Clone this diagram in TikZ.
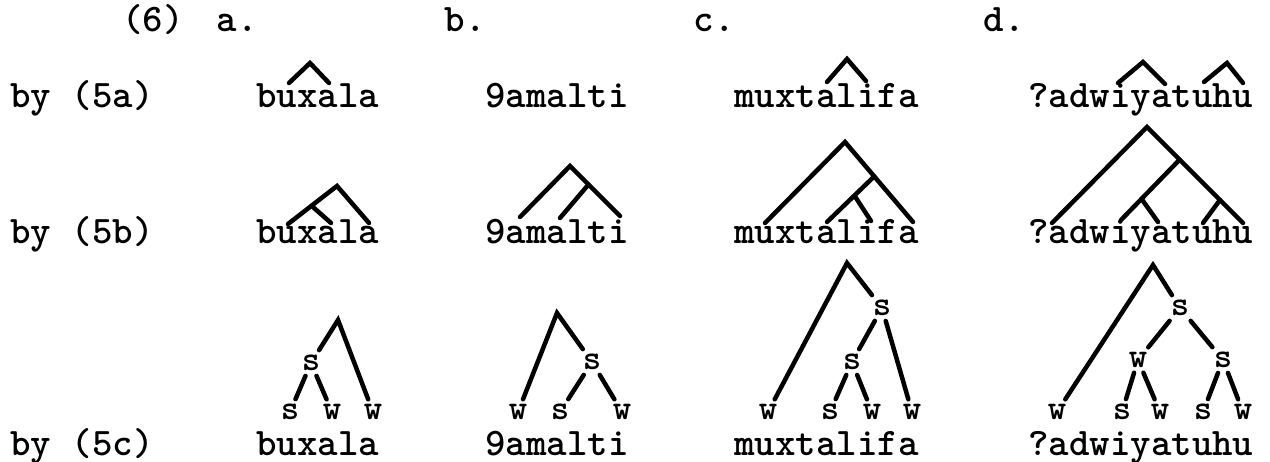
\documentclass[tikz,border=0pt]{standalone}
\usepackage{fontspec}
\usepackage{tikz}
\usetikzlibrary{positioning,calc}

\begin{document}
\begin{tikzpicture}[
    x=1pt, y=-1pt,
    word/.style={anchor=base west, inner sep=0pt, font=\ttfamily\bfseries\fontsize{39}{41}\selectfont},
    head/.style={anchor=base, inner sep=0pt, font=\ttfamily\bfseries\fontsize{39}{41}\selectfont},
    sw/.style={inner sep=1pt, outer sep=4pt, font=\ttfamily\bfseries\fontsize{35}{37}\selectfont},
    branch/.style={line width=4.5pt, line cap=round},
  ]
  \useasboundingbox (0,0) rectangle (1270,462);

  % Column heads
  \node[head] (ex) at (153,32) {(6)};
  \node[head] (hda) at (237,32) {a.};
  \node[head] (hdb) at (465,32) {b.};
  \node[head] (hdc) at (714,32) {c.};
  \node[head] (hdd) at (1004,32) {d.};

  % Row labels
  \node[word] (r5a) at (10,108) {by (5a)};
  \node[word] (r5b) at (10,244) {by (5b)};
  \node[word] (r5c) at (10,455) {by (5c)};

  % Words
  \node[word] (wa1) at (256,108) {buxala};
  \node[word] (wa2) at (256,244) {buxala};
  \node[word] (wa3) at (256,455) {buxala};
  \node[word] (wb1) at (485,108) {9amalti};
  \node[word] (wb2) at (485,244) {9amalti};
  \node[word] (wb3) at (485,455) {9amalti};
  \node[word] (wc1) at (734,108) {muxtalifa};
  \node[word] (wc2) at (734,244) {muxtalifa};
  \node[word] (wc3) at (734,455) {muxtalifa};
  \node[word] (wd1) at (1028,108) {?adwiyatuhu};
  \node[word] (wd2) at (1028,244) {?adwiyatuhu};
  \node[word] (wd3) at (1028,455) {?adwiyatuhu};

  % a. buxala
  \coordinate (a1u) at (289,83);
  \coordinate (a1p) at (310,63);
  \coordinate (a1a) at (329,83);
  \draw[branch] (a1u) -- (a1p) -- (a1a);

  \coordinate (a2u) at (288,224);
  \coordinate (a2p) at (337,186);
  \coordinate (a2a) at (331,223);
  \coordinate (a2l) at (369,223);
  \coordinate (a2j) at ($(a2u)!0.48!(a2p)$);
  \draw[branch] (a2u) -- (a2p) -- (a2l);
  \draw[branch] (a2j) -- (a2a);

  \coordinate (a3p) at (338,320);
  \node[sw] (a3s) at (311,363) {s};
  \node[sw] (a3x) at (290,412) {s};
  \node[sw] (a3y) at (332,412) {w};
  \node[sw] (a3z) at (373,412) {w};
  \draw[branch] (a3s) -- (a3p) -- (a3z);
  \draw[branch] (a3x) -- (a3s) -- (a3y);

  % b. 9amalti
  \coordinate (b2a) at (520,217);
  \coordinate (b2p) at (570,166);
  \coordinate (b2i) at (620,216);
  \coordinate (b2m) at (560,218);
  \coordinate (b2j) at ($(b2p)!0.37!(b2i)$);
  \draw[branch] (b2a) -- (b2p) -- (b2i);
  \draw[branch] (b2j) -- (b2m);

  \coordinate (b3p) at (557,313);
  \node[sw] (b3w) at (518,412) {w};
  \node[sw] (b3s) at (592,362) {s};
  \node[sw] (b3x) at (560,412) {s};
  \node[sw] (b3y) at (622,412) {w};
  \draw[branch] (b3w) -- (b3p) -- (b3s);
  \draw[branch] (b3x) -- (b3s) -- (b3y);

  % c. muxtalifa
  \coordinate (c1a) at (827,82);
  \coordinate (c1p) at (847,59);
  \coordinate (c1i) at (866,81);
  \draw[branch] (c1a) -- (c1p) -- (c1i);

  \coordinate (c2u) at (765,223);
  \coordinate (c2p) at (845,142);
  \coordinate (c2e) at (913,222);
  \coordinate (c2a) at (827,222);
  \coordinate (c2i) at (871,221);
  \coordinate (c2j) at ($(c2p)!0.43!(c2e)$);
  \coordinate (c2k) at ($(c2j)!0.42!(c2a)$);
  \draw[branch] (c2u) -- (c2p) -- (c2e);
  \draw[branch] (c2j) -- (c2a);
  \draw[branch] (c2k) -- (c2i);

  \coordinate (c3p) at (847,263);
  \node[sw] (c3w) at (768,412) {w};
  \node[sw] (c3s) at (882,308) {s};
  \node[sw] (c3t) at (852,362) {s};
  \node[sw] (c3x) at (830,412) {s};
  \node[sw] (c3y) at (872,412) {w};
  \node[sw] (c3z) at (912,412) {w};
  \draw[branch] (c3w) -- (c3p) -- (c3s);
  \draw[branch] (c3t) -- (c3s) -- (c3z);
  \draw[branch] (c3x) -- (c3t) -- (c3y);

  % d. ?adwiyatuhu
  \coordinate (d1i) at (1118,83);
  \coordinate (d1p) at (1143,62);
  \coordinate (d1a) at (1165,84);
  \coordinate (d1u) at (1204,82);
  \coordinate (d1q) at (1227,63);
  \coordinate (d1v) at (1243,83);
  \draw[branch] (d1i) -- (d1p) -- (d1a);
  \draw[branch] (d1u) -- (d1q) -- (d1v);

  \coordinate (d2a) at (1052,223);
  \coordinate (d2p) at (1147,127);
  \coordinate (d2e) at (1243,223);
  \coordinate (d2i) at (1121,220);
  \coordinate (d2y) at (1158,222);
  \coordinate (d2u) at (1203,223);
  \coordinate (d2j) at ($(d2p)!0.34!(d2e)$);
  \coordinate (d2k) at ($(d2j)!0.65!(d2i)$);
  \coordinate (d2m) at ($(d2p)!0.76!(d2e)$);
  \draw[branch] (d2a) -- (d2p) -- (d2e);
  \draw[branch] (d2j) -- (d2i);
  \draw[branch] (d2k) -- (d2y);
  \draw[branch] (d2m) -- (d2u);

  \coordinate (d3p) at (1153,265);
  \node[sw] (d3w) at (1057,412) {w};
  \node[sw] (d3s) at (1180,308) {s};
  \node[sw] (d3b) at (1138,360) {w};
  \node[sw] (d3c) at (1223,360) {s};
  \node[sw] (d3x) at (1122,412) {s};
  \node[sw] (d3y) at (1160,412) {w};
  \node[sw] (d3z) at (1203,412) {s};
  \node[sw] (d3v) at (1243,412) {w};
  \draw[branch] (d3w) -- (d3p) -- (d3s);
  \draw[branch] (d3b) -- (d3s) -- (d3c);
  \draw[branch] (d3x) -- (d3b) -- (d3y);
  \draw[branch] (d3z) -- (d3c) -- (d3v);
\end{tikzpicture}
\end{document}
